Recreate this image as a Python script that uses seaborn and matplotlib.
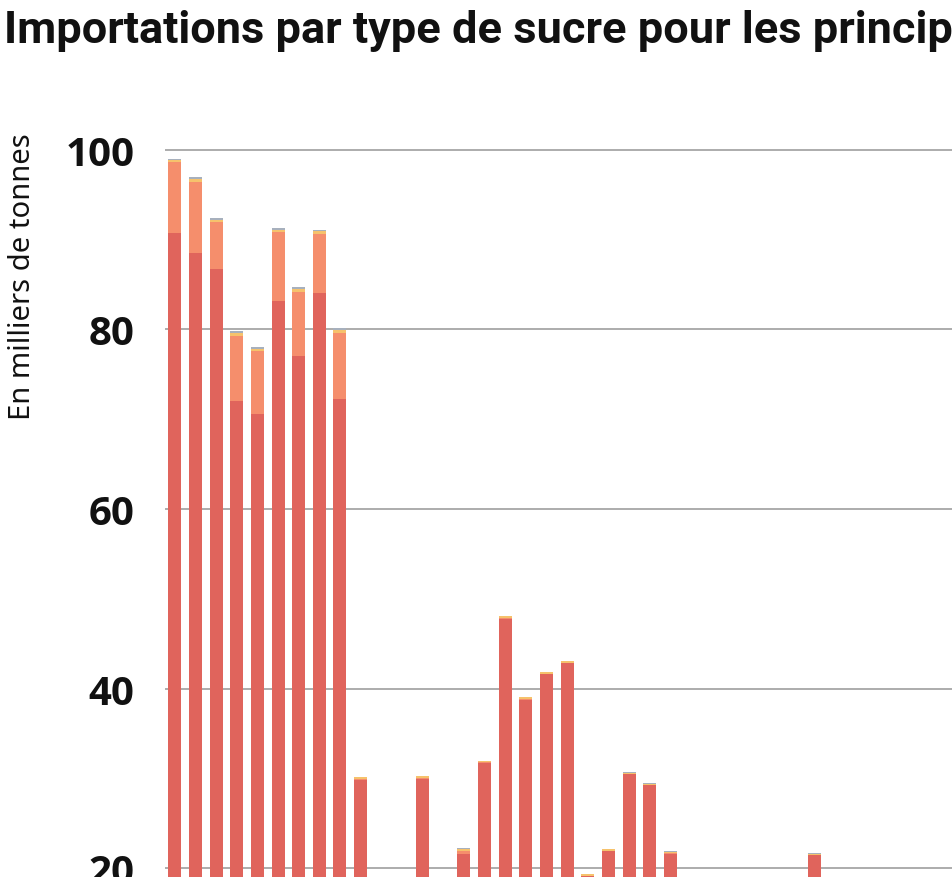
import numpy as np
import pandas as pd
import seaborn as sns
from matplotlib import pyplot as plt

sns.set_style('white')
plt.rcParams['font.family'] = ['Noto Sans', 'DejaVu Sans']

# one entry per bar (only the part above ~19 is visible in the crop)
periodes = [str(a) for a in range(1980, 2018)]
sucre_brut = [90.7, 88.5, 86.7, 72.0, 70.6, 83.2, 77.0, 84.1, 72.3, 29.9,
              14.0, 12.0, 30.0, 16.0, 21.6, 31.7, 47.8, 38.7, 41.7, 42.9,
              19.2, 22.0, 30.5, 29.3, 21.6, 12.0, 10.0, 15.0, 9.0, 13.0,
              11.0, 21.5, 14.0, 10.0, 8.0, 12.0, 9.0, 7.0]
sucre_blanc = [7.9, 7.9, 5.3, 7.3, 7.0, 7.6, 7.2, 6.5, 7.3, 0.1,
               0.1, 0.1, 0.1, 0.1, 0.3, 0.1, 0.1, 0.2, 0.0, 0.0,
               0.0, 0.0, 0.0, 0.0, 0.1, 0.1, 0.1, 0.1, 0.1, 0.1,
               0.1, 0.0, 0.1, 0.1, 0.1, 0.1, 0.1, 0.1]
sucre_roux = [0.2, 0.3, 0.2, 0.3, 0.2, 0.3, 0.3, 0.3, 0.3, 0.15,
              0.1, 0.1, 0.15, 0.1, 0.25, 0.15, 0.15, 0.15, 0.15, 0.15,
              0.15, 0.15, 0.15, 0.15, 0.15, 0.1, 0.1, 0.1, 0.1, 0.1,
              0.1, 0.15, 0.1, 0.1, 0.1, 0.1, 0.1, 0.1]
autres = [0.15, 0.2, 0.2, 0.2, 0.2, 0.2, 0.2, 0.2, 0.2, 0.05,
          0.05, 0.05, 0.05, 0.05, 0.15, 0.05, 0.05, 0.05, 0.05, 0.05,
          0.05, 0.05, 0.05, 0.05, 0.05, 0.05, 0.05, 0.05, 0.05, 0.05,
          0.05, 0.05, 0.05, 0.05, 0.05, 0.05, 0.05, 0.05]

series = ['Sucre brut', 'Sucre blanc', 'Sucre roux', 'Autres']
couleurs = ['#E0645C', '#F58E6C', '#F6C26C', '#A7B0BD']
graduations = [0, 20, 40, 60, 80, 100]

df = pd.DataFrame({'Periode': periodes, 'Sucre brut': sucre_brut,
                   'Sucre blanc': sucre_blanc, 'Sucre roux': sucre_roux,
                   'Autres': autres})
cumul = df[series].cumsum(axis=1)

fig = plt.figure(figsize=(9.53, 8.78), dpi=100)
ax = fig.add_axes([165 / 953, -0.195, 1 - 165 / 953, 1.0439])

# stacked bars: draw cumulative totals from the top layer down
for s, c in reversed(list(zip(series, couleurs))):
    sns.barplot(x=df['Periode'], y=cumul[s], color=c, width=0.63,
                saturation=1, ax=ax, linewidth=0, zorder=2)

ax.set_xlim(-0.475, 37.69)
ax.set_ylim(0, 102)
ax.set_yticks(graduations, labels=[str(g) for g in graduations],
              fontsize=29, fontweight='bold', color='#111111',
              family=['Open Sans', 'DejaVu Sans'])
ax.yaxis.grid(True, color='#A6A6A6', linewidth=1.3, zorder=0)
ax.set_axisbelow(True)
sns.despine(ax=ax, left=True, bottom=True)
ax.tick_params(axis='y', length=0, pad=22)
ax.set_xticklabels([])
ax.tick_params(axis='x', length=0)
ax.set_xlabel('')
ax.set_ylabel('')

fig.text(8 / 953, 1 - 277 / 878, 'En milliers de tonnes', rotation=90,
         fontsize=21, color='#111111', ha='left', va='center')
fig.text(4 / 953, 1 - 43 / 878,
         'Importations par type de sucre pour les principaux pays',
         fontsize=32.5, fontweight='bold', color='#111111',
         family=['Roboto', 'DejaVu Sans'],
         ha='left', va='baseline')

plt.savefig('out.png', dpi=100)
